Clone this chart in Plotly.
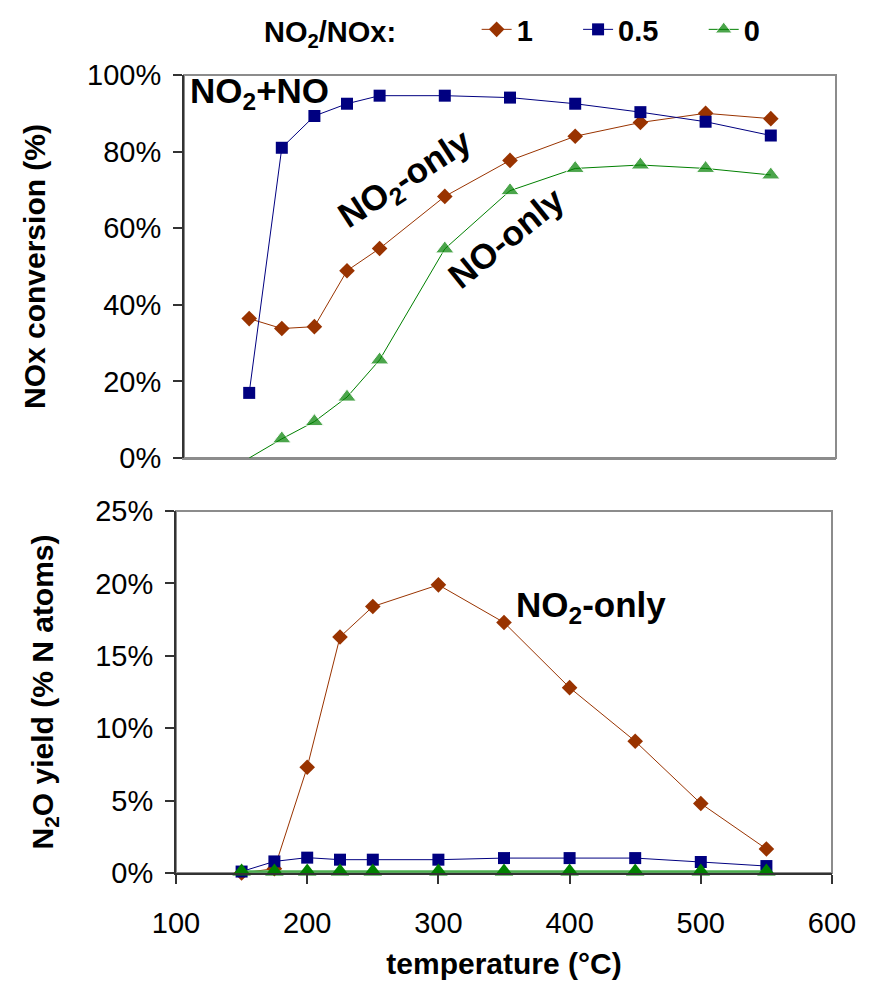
import plotly.graph_objects as go

temps = [150, 175, 200, 225, 250, 300, 350, 400, 450, 500, 550]

conv_1 = [36.4, 33.8, 34.3, 48.9, 54.7, 68.3, 77.7, 84.0, 87.6, 90.0, 88.6]
conv_05 = [17.0, 81.0, 89.3, 92.5, 94.6, 94.6, 94.1, 92.5, 90.3, 87.8, 84.2]
conv_0 = [0.0, 5.0, 9.5, 15.9, 25.6, 54.6, 69.8, 75.6, 76.5, 75.6, 73.9]

n2o_1 = [0.0, 0.3, 7.3, 16.3, 18.4, 19.9, 17.3, 12.8, 9.1, 4.8, 1.66]
n2o_05 = [0.1, 0.8, 1.06, 0.92, 0.92, 0.92, 1.03, 1.03, 1.03, 0.76, 0.48]
n2o_0 = [0.1, 0.1, 0.1, 0.1, 0.1, 0.1, 0.1, 0.1, 0.1, 0.1, 0.1]

series_names = ["1", "0.5", "0"]
x_ticks = [100, 200, 300, 400, 500, 600]
conv_ticks = [0, 20, 40, 60, 80, 100]
n2o_ticks = [0, 5, 10, 15, 20, 25]

RED = "#993300"
BLUE = "#000080"
GREEN = "#008000"
FONT = "Liberation Sans, Arial, sans-serif"
TICKF = 29
TITLEF = 30
ANNF = 35
SP = "&nbsp;"

W, H = 875, 991
def px_x(a, b):
    return [a / W, b / W]
def px_y(top, bottom):
    return [1 - bottom / H, 1 - top / H]

fig = go.Figure()

styles = [
    (RED, "diamond", 12),
    (BLUE, "square", 12),
    (GREEN, "triangle-up", 16),
]

top_data = [conv_1, conv_05, conv_0]
bot_data = [n2o_1, n2o_05, n2o_0]

for i, (name, ys) in enumerate(zip(series_names, top_data)):
    col, sym, sz = styles[i]
    size = sz
    if i == 2:
        size = [0] + [sz] * (len(temps) - 1)
    fig.add_trace(go.Scatter(
        x=temps, y=ys, name="<b>" + name + "</b>" + SP * 5, mode="lines+markers",
        line=dict(color=col, width=1),
        marker=dict(symbol=sym, size=size, color=col),
        xaxis="x", yaxis="y", showlegend=True, legendgroup=name,
    ))

for i, (name, ys) in enumerate(zip(series_names, bot_data)):
    col, sym, sz = styles[i]
    fig.add_trace(go.Scatter(
        x=temps, y=ys, name=name, mode="lines+markers",
        line=dict(color=col if i < 2 else "#4caf50", width=1 if i < 2 else 2.5),
        marker=dict(symbol=sym, size=sz, color=col),
        xaxis="x2", yaxis="y2", showlegend=False, legendgroup=name,
        cliponaxis=False,
    ))

axis_common = dict(showgrid=False, zeroline=False, showline=True,
                   linecolor="#333", linewidth=2,
                   tickcolor="#333", tickwidth=2, ticklen=9,
                   tickfont=dict(size=TICKF), automargin=False)

fig.update_layout(
    width=W, height=H,
    margin=dict(l=0, r=0, t=0, b=0),
    paper_bgcolor="white", plot_bgcolor="white",
    font=dict(family=FONT, size=TICKF, color="black"),
    xaxis=dict(domain=px_x(184, 836), range=[100, 600], anchor="y",
               showticklabels=False, ticks="", showgrid=False, zeroline=False,
               showline=True, linecolor="#8c8c8c", linewidth=2),
    yaxis=dict(domain=px_y(75, 458), range=[0, 100], anchor="x",
               tickvals=conv_ticks, ticktext=[f"{v}%" for v in conv_ticks],
               ticks="outside", ticklabelstandoff=6,
               title=dict(text="<b>NOx conversion (%)</b>", standoff=33,
                          font=dict(size=TITLEF)),
               **axis_common),
    xaxis2=dict(domain=px_x(176, 832), range=[100, 600], anchor="y2",
                tickvals=x_ticks, ticks="outside", ticklabelstandoff=14,
                title=dict(text="<b>temperature (°C)</b>", standoff=15,
                           font=dict(size=TITLEF)),
                **axis_common),
    yaxis2=dict(domain=px_y(511, 873), range=[0, 25], anchor="x2",
                tickvals=n2o_ticks, ticktext=[f"{v}%" for v in n2o_ticks],
                ticks="outside", ticklabelstandoff=6,
                title=dict(text="<b>N<sub>2</sub>O yield (% N atoms)</b>", standoff=33,
                           font=dict(size=TITLEF)),
                **axis_common),
    legend=dict(orientation="h", x=262 / W, y=1 - 4 / H, xanchor="left", yanchor="top",
                font=dict(size=TICKF, family=FONT),
                title=dict(text="<b>NO<sub>2</sub>/NOx:</b>" + SP * 9,
                           side="left", font=dict(size=TICKF)),
                bgcolor="rgba(0,0,0,0)", itemwidth=30, tracegroupgap=0),
    shapes=[
        dict(type="rect", xref="x domain", yref="y domain", x0=0, x1=1, y0=0, y1=1,
             line=dict(color="#8c8c8c", width=2), layer="below"),
        dict(type="rect", xref="x2 domain", yref="y2 domain", x0=0, x1=1, y0=0, y1=1,
             line=dict(color="#8c8c8c", width=2), layer="below"),
    ],
    annotations=[
        dict(text="<b>NO<sub>2</sub>+NO</b>", x=103, y=95.3, xref="x", yref="y",
             xanchor="left", yanchor="middle", showarrow=False, font=dict(size=ANNF)),
        dict(text="<b>NO<sub>2</sub>-only</b>", x=270, y=72.5, xref="x", yref="y",
             textangle=-33, showarrow=False, font=dict(size=ANNF)),
        dict(text="<b>NO-only</b>", x=347, y=57.5, xref="x", yref="y",
             textangle=-39, showarrow=False, font=dict(size=ANNF)),
        dict(text="<b>NO<sub>2</sub>-only</b>", x=416, y=18.4, xref="x2", yref="y2",
             showarrow=False, font=dict(size=ANNF)),
    ],
)

fig.write_html("out.html")
